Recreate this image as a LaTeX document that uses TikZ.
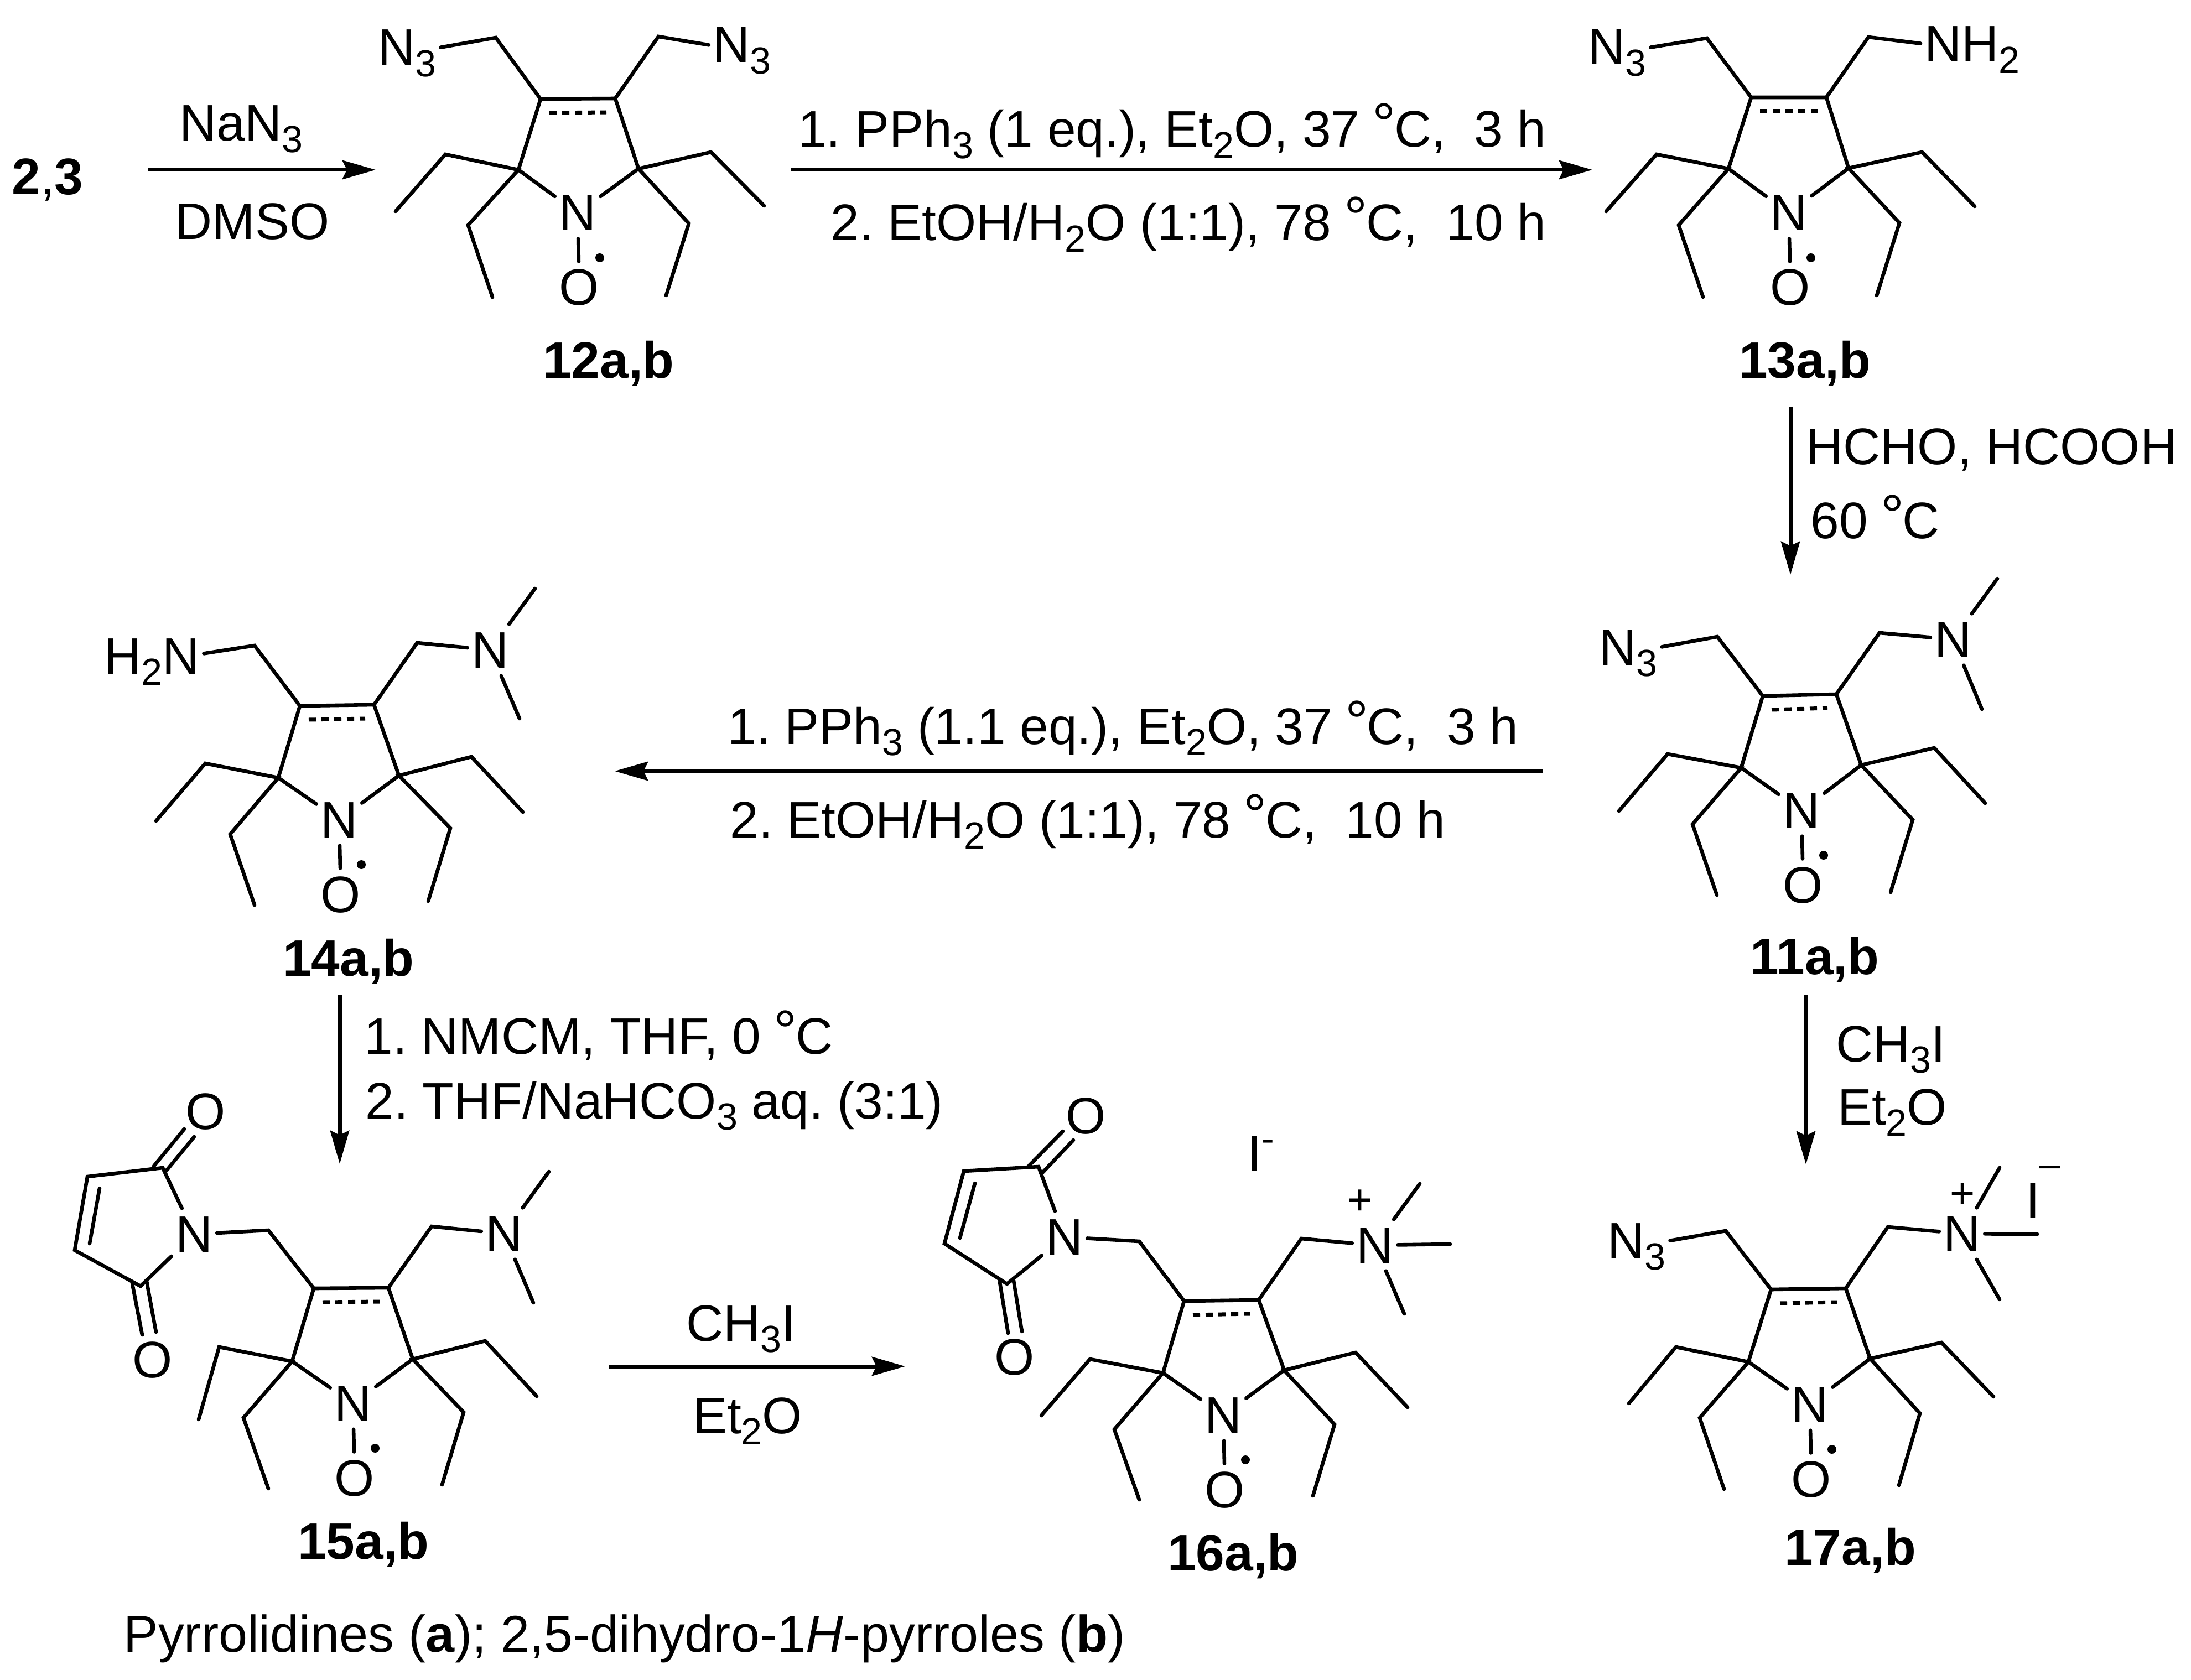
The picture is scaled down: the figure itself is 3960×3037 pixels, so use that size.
\documentclass[tikz,border=0pt]{standalone}
\usepackage{fontspec}
\setmainfont{Liberation Sans}
\usetikzlibrary{arrows.meta}
\newcommand{\Rm}{\fontsize{26.4}{30}\selectfont\frenchspacing}
\newcommand{\Sb}[1]{\raisebox{-0.2cm}{\fontsize{19.4}{20}\selectfont #1}}
\newcommand{\Sp}[1]{\raisebox{0.35cm}{\fontsize{19.4}{20}\selectfont #1}}
\newcommand{\Deg}{\raisebox{0.05cm}{\makebox[0.37cm]{\fontsize{30}{30}\selectfont °}}}
\tikzset{
  bond/.style={line width=0.066cm,line cap=round,line join=miter},
  dashbond/.style={line width=0.07cm,dash pattern=on 0.13cm off 0.1cm},
  rxn/.style={-{Stealth[length=0.6cm,width=0.34cm,inset=0.08cm]},line width=0.07cm},
  atom/.style={font=\Rm,anchor=base,inner xsep=0.07cm,inner ysep=0.14cm},
  group/.style={atom,anchor=base west},
  reagent/.style={font=\Rm,anchor=base,inner sep=0pt},
  cpd/.style={font=\Rm\bfseries,anchor=base,inner sep=0pt},
  charge/.style={font=\fontsize{22}{24}\selectfont,inner sep=0pt}
}
% tag, ring N, ring C left, ring C right, C=C left, C=C right
\newcommand{\Nitroxide}[6]{
  \coordinate (p#1) at (#2);
  \node[atom] (N#1) at (p#1) {N};
  \node[atom] (O#1) at ([shift={(3,135)}]p#1) {O};
  \path (#3) coordinate (L#1) (#4) coordinate (R#1)
    (#5) coordinate (CL#1) +(16,25) coordinate (DL#1)
    (#6) coordinate (CR#1) +(-16,25) coordinate (DR#1);
  \draw[bond] (N#1)--(L#1)--(CL#1)--(CR#1)--(R#1)--(N#1) (N#1)--(O#1);
  \draw[dashbond] (DL#1)--(DR#1);
  \fill ([shift={(37,-86)}]O#1.base) circle[radius=0.08cm];
}
\newcommand{\Ethyls}[9]{
  \draw[bond] (#3)--(#2)--(L#1)--(#4)--(#5);
  \draw[bond] (#7)--(#6)--(R#1)--(#8)--(#9);
}
\begin{document}
\begin{tikzpicture}[x=0.01cm,y=-0.01cm]
  \useasboundingbox (0,0) rectangle (3960,3037);
  % 12a,b
  \Nitroxide{12}{1044,417}{937,307}{1154,305}{977,179}{1112,178}
  \Ethyls{12}{805,279}{715,382}{846,407}{890,537}{1285,275}{1381,372}{1245,404}{1204,534}
  \node[group] (A12) at (676,118) {N\Sb{3}};
  \node[group] (B12) at (1281,113) {N\Sb{3}};
  \draw[bond] (A12)--(896,68)--(CL12) (CR12)--(1190,66)--(B12);
  \node[cpd] (c12) at (1100,684) {12a,b};
  % 13a,b
  \Nitroxide{13}{3233,417}{3124,305}{3341,304}{3165,176}{3301,176}
  \Ethyls{13}{2994,279}{2903,382}{3034,407}{3078,537}{3474,275}{3569,373}{3433,403}{3392,534}
  \node[group] (A13) at (2863,117) {N\Sb{3}};
  \node[group] (B13) at (3471,112) {NH\Sb{2}};
  \draw[bond] (A13)--(3085,69)--(CL13) (CR13)--(3377,67)--(B13);
  \node[cpd] (c13) at (3262,684) {13a,b};
  % 11a,b
  \Nitroxide{11}{3256,1497}{3147,1388}{3364,1383}{3186,1258}{3319,1255}
  \Ethyls{11}{3014,1363}{2926,1466}{3059,1490}{3103,1618}{3496,1352}{3588,1452}{3457,1482}{3417,1613}
  \node[group] (A11) at (2883,1202) {N\Sb{3}};
  \node[atom] (B11) at (3530,1188) {N};
  \draw[bond] (A11)--(3104,1151)--(CL11) (CR11)--(3397,1144)--(B11);
  \draw[bond] (B11)--(3610,1046) (B11)--(3582,1282);
  \node[cpd] (c11) at (3280,1761) {11a,b};
  % 14a,b
  \Nitroxide{14}{613,1514}{503,1406}{721,1402}{542,1276}{676,1274}
  \Ethyls{14}{371,1380}{282,1484}{416,1508}{460,1636}{852,1368}{945,1468}{814,1497}{774,1629}
  \node[group] (A14) at (181,1218) {H\Sb{2}N};
  \node[atom] (B14) at (886,1207) {N};
  \draw[bond] (A14)--(460,1167)--(CL14) (CR14)--(754,1162)--(B14);
  \draw[bond] (B14)--(967,1064) (B14)--(939,1299);
  \node[cpd] (c14) at (630,1764) {14a,b};
  % 15a,b
  \Nitroxide{15}{638,2569}{528,2461}{746,2457}{567,2329}{702,2328}
  \Ethyls{15}{396,2435}{359,2566}{440,2563}{485,2691}{877,2424}{970,2524}{838,2553}{799,2684}
  \node[atom] (M15) at (351,2263) {N};
  \node[atom] (P15) at (372,2041) {O};
  \node[atom] (Q15) at (276,2490) {O};
  \node[atom] (B15) at (911,2262) {N};
  \draw[bond] (M15)--(294,2111)--(158,2127)--(135,2260)--(254,2325)--(M15);
  \draw[bond] (180,2148)--(162,2248);
  \draw[bond] (278,2108)--(333,2041) (300,2117)--(351,2055);
  \draw[bond] (239,2320)--(257,2413) (265,2316)--(282,2408);
  \draw[bond] (M15)--(485,2224)--(CL15) (CR15)--(780,2217)--(B15);
  \draw[bond] (B15)--(992,2118) (B15)--(964,2355);
  \node[cpd] (c15) at (657,2818) {15a,b};
  % 16a,b
  \Nitroxide{16}{2211,2590}{2102,2482}{2321,2477}{2140,2352}{2275,2350}
  \Ethyls{16}{1970,2457}{1882,2559}{2014,2584}{2059,2711}{2450,2445}{2544,2544}{2412,2575}{2373,2704}
  \node[atom] (M16) at (1924,2268) {N};
  \node[atom] (P16) at (1963,2049) {O};
  \node[atom] (Q16) at (1834,2485) {O};
  \node[atom] (B16) at (2485,2283) {N};
  \node[charge] (E16) at (2458,2173) {+};
  \node[reagent,anchor=base west] (I16) at (2254,2117) {I\Sp{-}};
  \draw[bond] (M16)--(1877,2109)--(1742,2117)--(1707,2248)--(1820,2321)--(M16);
  \draw[bond] (1762,2139)--(1735,2238);
  \draw[bond] (1860,2107)--(1921,2045) (1884,2120)--(1940,2061);
  \draw[bond] (1807,2318)--(1822,2410) (1832,2315)--(1847,2407);
  \draw[bond] (M16)--(2059,2244)--(CL16) (CR16)--(2352,2239)--(B16);
  \draw[bond] (B16)--(2566,2140) (B16)--(2621,2249) (B16)--(2538,2375);
  \node[cpd] (c16) at (2229,2839) {16a,b};
  % 17a,b
  \Nitroxide{17}{3271,2571}{3160,2462}{3380,2456}{3201,2331}{3336,2329}
  \Ethyls{17}{3029,2435}{2944,2537}{3072,2563}{3116,2692}{3509,2427}{3603,2525}{3470,2555}{3432,2685}
  \node[group] (A17) at (2898,2275) {N\Sb{3}};
  \node[atom] (B17) at (3546,2262) {N};
  \node[charge] (E17) at (3547,2161) {+};
  \node[reagent,anchor=base] (I17) at (3674,2202) {I};
  \node[charge,font=\fontsize{19.3}{20}\selectfont] (F17) at (3705,2118) {–};
  \draw[bond] (A17)--(3119,2225)--(CL17) (CR17)--(3412,2218)--(B17);
  \draw[bond] (B17)--(3614,2111) (B17)--(3682,2231) (B17)--(3614,2349);
  \node[cpd] (c17) at (3344,2829) {17a,b};
  % arrows
  \path (267,307) coordinate (s1) (679,307) coordinate (e1)
    (1429,307) coordinate (s2) (2878,307) coordinate (e2)
    (3236,735) coordinate (s3) (3236,1039) coordinate (e3)
    (2789,1394) coordinate (s4) (1111,1394) coordinate (e4)
    (614,1798) coordinate (s5) (614,2104) coordinate (e5)
    (3264,1798) coordinate (s6) (3264,2105) coordinate (e6)
    (1101,2470) coordinate (s7) (1636,2470) coordinate (e7);
  \foreach \n in {1,...,7}
    \draw[rxn] (s\n)--(e\n);
  % reagents
  \node[reagent] (r0) at (86,352) {\textbf{2},\textbf{3}};
  \node[reagent] (r1a) at (436,255) {NaN\Sb{3}};
  \node[reagent] (r1b) at (456,433) {DMSO};
  \node[reagent] (r2a) at (2118,266) {1. PPh\Sb{3} (1 eq.), Et\Sb{2}O, 37 \Deg C,\ \ 3 h};
  \node[reagent] (r2b) at (2148,435) {2. EtOH/H\Sb{2}O (1:1), 78 \Deg C,\ \ 10 h};
  \node[reagent,anchor=base west] (r3a) at (3264,840) {HCHO, HCOOH};
  \node[reagent,anchor=base west] (r3b) at (3272,973) {60 \Deg C};
  \node[reagent] (r4a) at (2030,1345) {1. PPh\Sb{3} (1.1 eq.), Et\Sb{2}O, 37 \Deg C,\ \ 3 h};
  \node[reagent] (r4b) at (1966,1514) {2. EtOH/H\Sb{2}O (1:1), 78 \Deg C,\ \ 10 h};
  \node[reagent,anchor=base west] (r5a) at (658,1905) {1. NMCM, THF, 0 \Deg C};
  \node[reagent,anchor=base west] (r5b) at (660,2022) {2. THF/NaHCO\Sb{3} aq. (3:1)};
  \node[reagent] (r6a) at (3417,1919) {CH\Sb{3}I};
  \node[reagent] (r6b) at (3420,2033) {Et\Sb{2}O};
  \node[reagent] (r7a) at (1339,2424) {CH\Sb{3}I};
  \node[reagent] (r7b) at (1351,2591) {Et\Sb{2}O};
  \node[reagent,anchor=base west,font=\fontsize{26.6}{30}\selectfont] (foot) at (223,2986) {Pyrrolidines (\textbf{a}); 2,5-dihydro-1\textit{H}-pyrroles (\textbf{b})};
\end{tikzpicture}
\end{document}
